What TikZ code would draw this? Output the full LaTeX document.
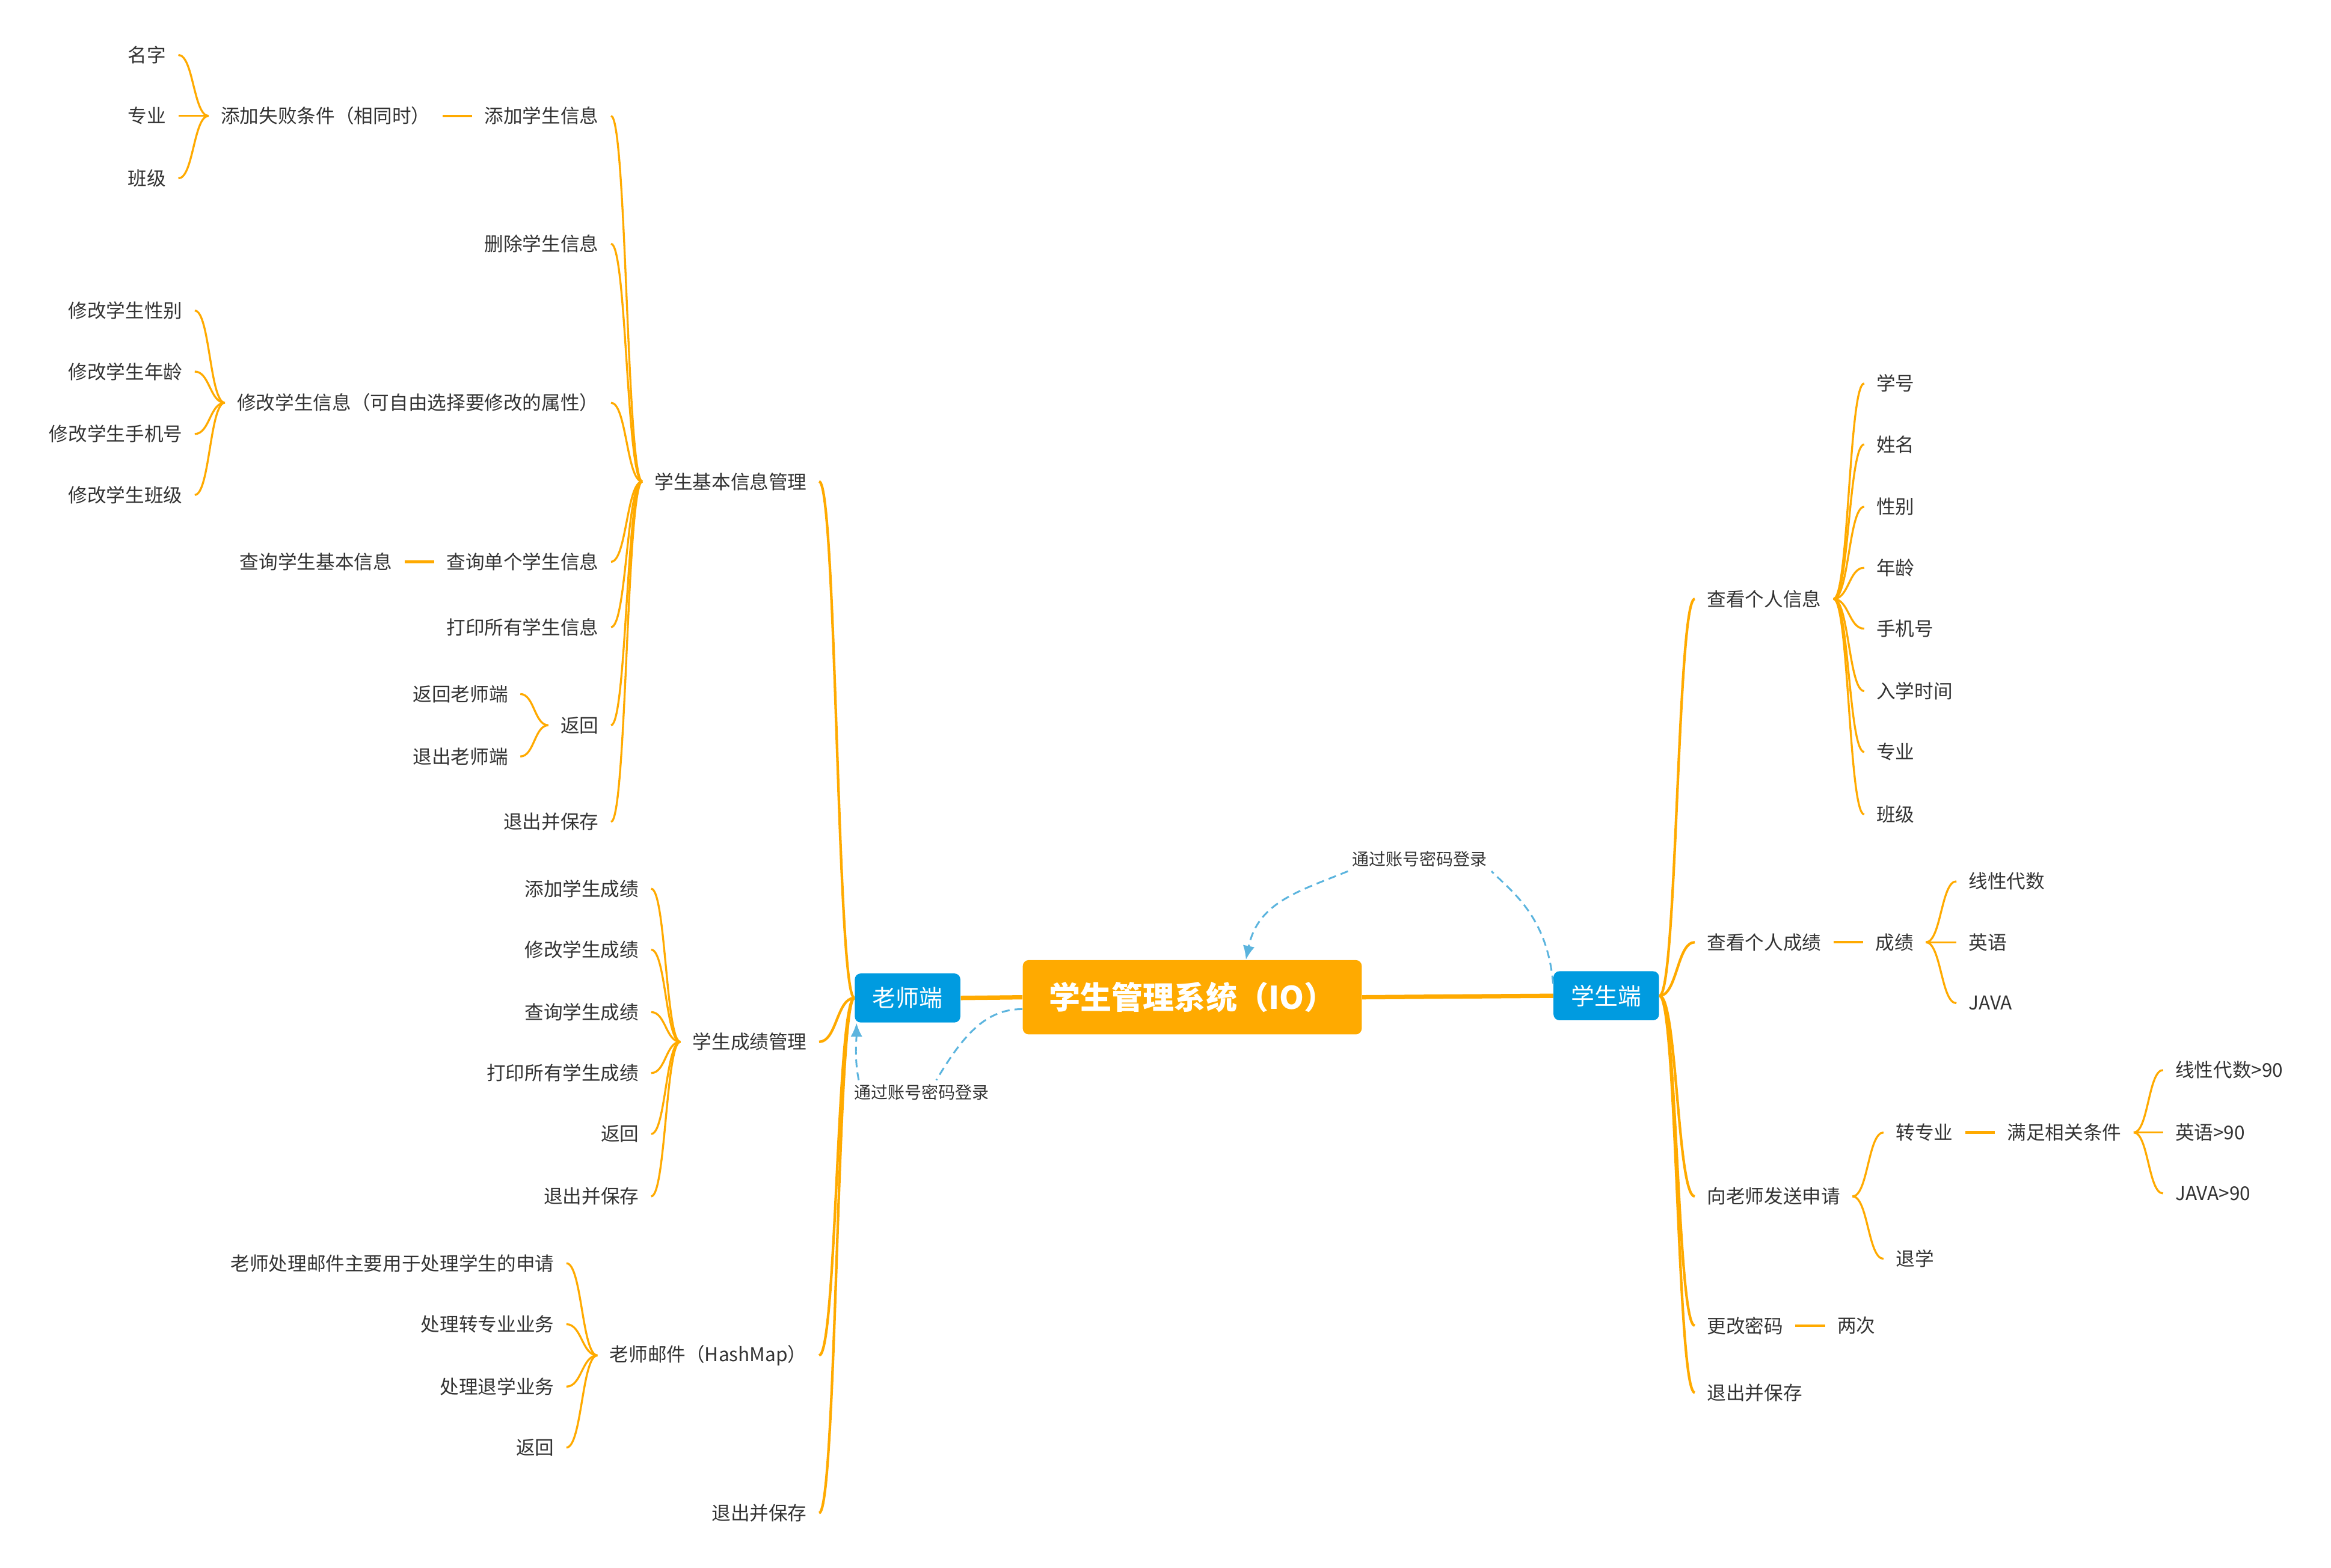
\documentclass[tikz,border=0pt]{standalone}
\usepackage{fontspec}
\setmainfont{Noto Sans CJK SC}
\usepackage{tikz}
\usetikzlibrary{calc}
\usetikzlibrary{positioning}
\usetikzlibrary{arrows.meta}

\definecolor{mmorange}{RGB}{255,170,0}
\definecolor{sideblue}{RGB}{0,155,224}
\definecolor{loginblue}{RGB}{91,180,222}
\definecolor{txtgray}{RGB}{51,51,51}

\tikzset{
  leaf/.style={inner xsep=6pt, inner ysep=1pt, text=txtgray, font=\fontsize{9.6}{11}\selectfont},
  rootbox/.style={fill=mmorange, rounded corners=3pt, text=white, minimum width=171pt, minimum height=37.5pt, font=\bfseries\fontsize{15.8}{18}\selectfont},
  side/.style={fill=sideblue, rounded corners=3pt, text=white, minimum width=53.25pt, minimum height=24.75pt, font=\fontsize{11.8}{13}\selectfont},
  loginlbl/.style={inner sep=2pt, text=txtgray, font=\fontsize{8.5}{10}\selectfont},
  thick root/.style={draw=mmorange, line width=2.2pt},
  trunk/.style={draw=mmorange, line width=1.3pt},
  branch/.style={draw=mmorange, line width=1pt},
  login/.style={draw=loginblue, line width=0.9pt, dash pattern=on 4pt off 2.5pt},
  curly/.style={to path={.. controls ($(\tikztostart)!0.5!(\tikztostart -| \tikztotarget)$) and ($(\tikztotarget)!0.5!(\tikztotarget -| \tikztostart)$) .. (\tikztotarget)}}
}

\begin{document}
\begin{tikzpicture}[x=0.75pt,y=0.75pt,yscale=-1,xscale=1]
\useasboundingbox (0,0) rectangle (1568,1055);

%Shape: centre and the two ends
\node[rootbox] (root) at (802,671) {学生管理系统（IO）};
\node[side] (tea) at (610.5,671.5) {老师端};
\node[side] (stu) at (1080.5,670) {学生端};

% Text Node: teacher side
\node[leaf, anchor=east] (jbxx) at (551,324) {学生基本信息管理};
\node[leaf, anchor=east] (cjgl) at (551,701) {学生成绩管理};
\node[leaf, anchor=east] (yjian) at (551,912) {老师邮件（HashMap）};
\node[leaf, anchor=east] (tcbc) at (551,1018) {退出并保存};

\node[leaf, anchor=east] (tjxx) at (411,78) {添加学生信息};
\node[leaf, left=15pt of tjxx] (tjsb) {添加失败条件（相同时）};
\node[leaf, anchor=east] (mz) at (120,37) {名字};
\node[leaf, anchor=east] (zy) at (120,78) {专业};
\node[leaf, anchor=east] (bj) at (120,120) {班级};
\node[leaf, anchor=east] (scxx) at (411,164) {删除学生信息};
\node[leaf, anchor=east] (xgxx) at (411,271) {修改学生信息（可自由选择要修改的属性）};
\node[leaf, anchor=east] (xgxb) at (131,209) {修改学生性别};
\node[leaf, anchor=east] (xgnl) at (131,250) {修改学生年龄};
\node[leaf, anchor=east] (xgsj) at (131,292) {修改学生手机号};
\node[leaf, anchor=east] (xgbj) at (131,333) {修改学生班级};
\node[leaf, anchor=east] (cxdg) at (411,378) {查询单个学生信息};
\node[leaf, left=15pt of cxdg] (cxjb) {查询学生基本信息};
\node[leaf, anchor=east] (dyxx) at (411,422) {打印所有学生信息};
\node[leaf, anchor=east] (fhui) at (411,488) {返回};
\node[leaf, anchor=east] (fhls) at (350,467) {返回老师端};
\node[leaf, anchor=east] (tcls) at (350,509) {退出老师端};
\node[leaf, anchor=east] (tcbc2) at (411,553) {退出并保存};

\node[leaf, anchor=east] (tjcj) at (438,598) {添加学生成绩};
\node[leaf, anchor=east] (xgcj) at (438,639) {修改学生成绩};
\node[leaf, anchor=east] (cxcj) at (438,681) {查询学生成绩};
\node[leaf, anchor=east] (dycj) at (438,722) {打印所有学生成绩};
\node[leaf, anchor=east] (fhcj) at (438,763) {返回};
\node[leaf, anchor=east] (tccj) at (438,805) {退出并保存};

\node[leaf, anchor=east] (yjsq) at (381,850) {老师处理邮件主要用于处理学生的申请};
\node[leaf, anchor=east] (yjzy) at (381,891) {处理转专业业务};
\node[leaf, anchor=east] (yjtx) at (381,933) {处理退学业务};
\node[leaf, anchor=east] (yjfh) at (381,974) {返回};

% Text Node: student side
\node[leaf, anchor=west] (ckxx) at (1140,403) {查看个人信息};
\node[leaf, anchor=west] (xh) at (1254,258) {学号};
\node[leaf, anchor=west] (xm) at (1254,299) {姓名};
\node[leaf, anchor=west] (xb) at (1254,341) {性别};
\node[leaf, anchor=west] (nl) at (1254,382) {年龄};
\node[leaf, anchor=west] (sjh) at (1254,423) {手机号};
\node[leaf, anchor=west] (rxsj) at (1254,465) {入学时间};
\node[leaf, anchor=west] (zy2) at (1254,506) {专业};
\node[leaf, anchor=west] (bj2) at (1254,548) {班级};

\node[leaf, anchor=west] (ckcj) at (1140,634) {查看个人成绩};
\node[leaf, right=15pt of ckcj] (chj) {成绩};
\node[leaf, anchor=west] (xxds) at (1316,593) {线性代数};
\node[leaf, anchor=west] (yy) at (1316,634) {英语};
\node[leaf, anchor=west] (java) at (1316,675) {JAVA};

\node[leaf, anchor=west] (fssq) at (1140,805) {向老师发送申请};
\node[leaf, anchor=west] (zzy) at (1267,762) {转专业};
\node[leaf, right=15pt of zzy] (mztj) {满足相关条件};
\node[leaf, anchor=west] (xxds90) at (1455,720) {线性代数>90};
\node[leaf, anchor=west] (yy90) at (1455,762) {英语>90};
\node[leaf, anchor=west] (java90) at (1455,803) {JAVA>90};
\node[leaf, anchor=west] (tx) at (1267,847) {退学};

\node[leaf, anchor=west] (ggmm) at (1140,892) {更改密码};
\node[leaf, right=15pt of ggmm] (lc) {两次};
\node[leaf, anchor=west] (tcbc3) at (1140,937) {退出并保存};

% Text Node: login labels
\node[loginlbl] (lbl1) at (955,578) {通过账号密码登录};
\node[loginlbl] (lbl2) at (620,735) {通过账号密码登录};

%Straight Lines: centre to ends
\draw[thick root] (tea.east) -- (root.west);
\draw[thick root] (root.east) -- (stu.west);

%Curves: teacher side
\foreach \c in {jbxx,cjgl,yjian,tcbc} \draw[trunk] (tea.west) to[curly] (\c.east);
\foreach \c in {tjxx,scxx,xgxx,cxdg,dyxx,fhui,tcbc2} \draw[branch] (jbxx.west) to[curly] (\c.east);
\foreach \c in {mz,zy,bj} \draw[branch] (tjsb.west) to[curly] (\c.east);
\foreach \c in {xgxb,xgnl,xgsj,xgbj} \draw[branch] (xgxx.west) to[curly] (\c.east);
\foreach \c in {fhls,tcls} \draw[branch] (fhui.west) to[curly] (\c.east);
\foreach \c in {tjcj,xgcj,cxcj,dycj,fhcj,tccj} \draw[branch] (cjgl.west) to[curly] (\c.east);
\foreach \c in {yjsq,yjzy,yjtx,yjfh} \draw[branch] (yjian.west) to[curly] (\c.east);
\draw[trunk] (tjxx.west) -- (tjsb.east);
\draw[trunk] (cxdg.west) -- (cxjb.east);

%Curves: student side
\foreach \c in {ckxx,ckcj,fssq,ggmm,tcbc3} \draw[trunk] (stu.east) to[curly] (\c.west);
\foreach \c in {xh,xm,xb,nl,sjh,rxsj,zy2,bj2} \draw[branch] (ckxx.east) to[curly] (\c.west);
\foreach \c in {xxds,yy,java} \draw[branch] (chj.east) to[curly] (\c.west);
\foreach \c in {zzy,tx} \draw[branch] (fssq.east) to[curly] (\c.west);
\foreach \c in {xxds90,yy90,java90} \draw[branch] (mztj.east) to[curly] (\c.west);
\draw[trunk] (ckcj.east) -- (chj.west);
\draw[trunk] (zzy.east) -- (mztj.west);
\draw[trunk] (ggmm.east) -- (lc.west);

%Dashed login arrows
\draw[login] (stu.167) .. controls +(-4,-45) and +(14,14) .. (lbl1.south east);
\draw[login, -{Latex[length=7pt,width=6pt]}] (lbl1.south west) .. controls +(-35,14) and +(8,-38) .. (root.35);
\draw[login] (root.184) .. controls +(-25,0) and +(18,-30) .. (lbl2.40);
\draw[login, -{Latex[length=7pt,width=6pt]}] (lbl2.169) .. controls +(-3,-15) and +(0,12) .. (tea.206);

\end{tikzpicture}
\end{document}
